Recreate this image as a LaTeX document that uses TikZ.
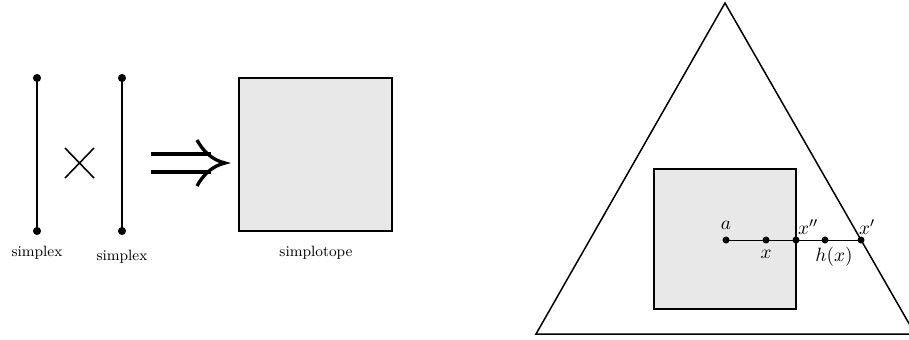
\documentclass[tikz,border=0pt]{standalone}
\begin{document}
\begin{tikzpicture}[x=0.02cm,y=-0.02cm,
  seg/.style={line width=1.6pt},
  dotpt/.style={fill=black,circle,inner sep=0pt,minimum size=4.6pt},
  smalldot/.style={fill=black,circle,inner sep=0pt,minimum size=4pt},
  lbl/.style={font=\fontsize{8.5}{10}\selectfont},
  mlbl/.style={font=\fontsize{11}{13}\selectfont,inner sep=0pt},
  boxfill/.style={fill=gray!18,draw=black,line width=0.6pt}]
\useasboundingbox (0,0) rectangle (909,339);
% left segments
\node[dotpt] (s1a) at (37,78) {};
\node[dotpt] (s1b) at (37,231) {};
\draw[seg] (s1a.center) -- (s1b.center);
\node[lbl] (l1) at (37,253) {simplex};
\node[dotpt] (s2a) at (122,78) {};
\node[dotpt] (s2b) at (122,231) {};
\draw[seg] (s2a.center) -- (s2b.center);
\node[lbl] (l2) at (122,257) {simplex};
% times
\draw[line width=0.9pt] (65,148) -- (94,178) (65,178) -- (94,148);
% implies arrow
\draw[line width=1.9pt] (151,154) -- (211,154) (151,172) -- (211,172);
\draw[line width=1.9pt] (197,140) .. controls (203,151) and (212,160) .. (225,163)
  .. controls (212,166) and (203,175) .. (197,186);
% simplotope
\draw[boxfill] (239,78) rectangle (392,231);
\node[lbl] (l3) at (316,253) {simplotope};
% right figure
\coordinate (T) at (725,3);
\coordinate (L) at (536,334);
\coordinate (R) at (915,334);
\draw[line width=0.85pt] (L) -- (T) -- (R) -- cycle;
\draw[boxfill] (654,169) rectangle (796,309);
\node[smalldot] (a) at (726,240) {};
\node[smalldot] (x) at (766,240) {};
\node[smalldot] (xpp) at (796,240) {};
\node[smalldot] (hx) at (825,240) {};
\node[smalldot] (xp) at (861,240) {};
\draw[line width=0.5pt] (a.center) -- (xp.center);
\node[mlbl] at (726,225) {$a$};
\node[mlbl] at (766,254) {$x$};
\node[mlbl] at (808,227) {$x''$};
\node[mlbl] at (834,257) {$h(x)$};
\node[mlbl] at (867,227) {$x'$};
\end{tikzpicture}
\end{document}
